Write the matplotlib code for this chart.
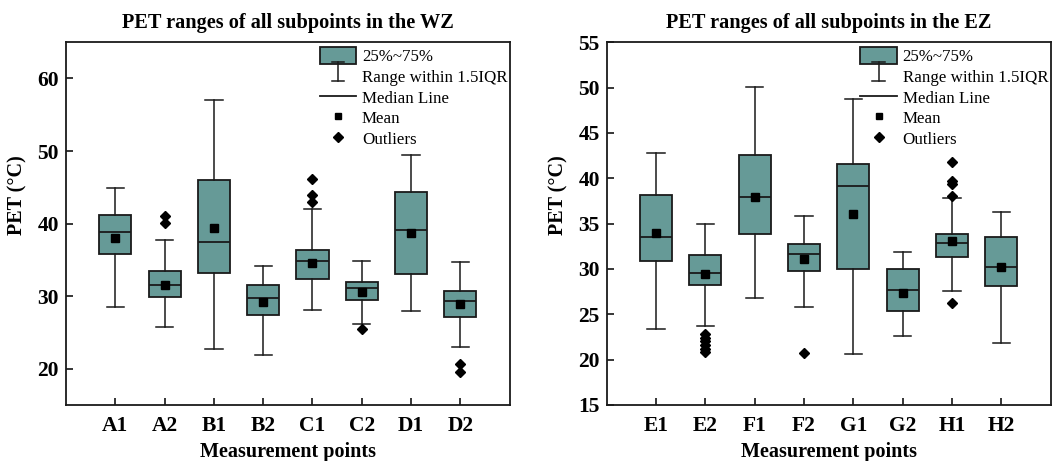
import numpy as np
import matplotlib.pyplot as plt
from matplotlib.patches import Patch
from matplotlib.lines import Line2D
from matplotlib.legend_handler import HandlerBase

plt.rcParams['font.family'] = ['Liberation Serif', 'DejaVu Serif']

BOX_COLOR = '#669a97'
EDGE = '#1a1a1a'

# West zone summary stats: whisker low, Q1, median, Q3, whisker high, mean
WZ_LABELS = ['A1', 'A2', 'B1', 'B2', 'C1', 'C2', 'D1', 'D2']
WZ_WLO = [28.5, 25.7, 22.7, 21.9, 28.1, 26.1, 28.0, 23.0]
WZ_Q1 = [35.8, 29.9, 33.2, 27.4, 32.3, 29.5, 33.1, 27.1]
WZ_MED = [38.8, 31.6, 37.4, 29.7, 34.8, 31.1, 39.1, 29.3]
WZ_Q3 = [41.2, 33.5, 46.0, 31.5, 36.4, 31.9, 44.4, 30.7]
WZ_WHI = [44.9, 37.8, 57.1, 34.2, 42.0, 34.9, 49.4, 34.7]
WZ_MEAN = [38.0, 31.6, 39.4, 29.2, 34.6, 30.6, 38.7, 28.9]
WZ_OUT = [[], [41.0, 40.1], [], [], [46.1, 43.9, 43.0], [25.5], [], [20.6, 19.5]]

# East zone
EZ_LABELS = ['E1', 'E2', 'F1', 'F2', 'G1', 'G2', 'H1', 'H2']
EZ_WLO = [23.4, 23.7, 26.8, 25.8, 20.6, 22.6, 27.6, 21.8]
EZ_Q1 = [30.85, 28.2, 33.9, 29.8, 30.0, 25.4, 31.3, 28.1]
EZ_MED = [33.5, 29.6, 37.9, 31.7, 39.1, 27.7, 32.9, 30.2]
EZ_Q3 = [38.1, 31.55, 42.6, 32.75, 41.6, 30.0, 33.9, 33.5]
EZ_WHI = [42.8, 35.0, 50.1, 35.8, 48.7, 31.9, 37.8, 36.3]
EZ_MEAN = [34.0, 29.4, 37.9, 31.1, 36.1, 27.4, 33.05, 30.2]
EZ_OUT = [[], [22.8, 22.4, 22.0, 21.6, 21.2, 20.8], [], [20.7], [], [],
          [41.8, 39.7, 39.4, 38.0, 26.25], []]


class WhiskerHandler(HandlerBase):
    # legend glyph drawn as a small I-beam
    def create_artists(self, legend, orig_handle, xd, yd, width, height, fontsize, trans):
        cx = xd + width / 2
        top = yd + height * 1.05
        bot = yd - height * 0.1
        cw = width * 0.17
        arts = [Line2D([cx, cx], [bot, top], color=EDGE, lw=1.1),
                Line2D([cx - cw, cx + cw], [top, top], color=EDGE, lw=1.1),
                Line2D([cx - cw, cx + cw], [bot, bot], color=EDGE, lw=1.1)]
        for a in arts:
            a.set_transform(trans)
        return arts


def draw_panel(ax, labels, wlo, q1, med, q3, whi, mean, outl, title, ylim, yticks):
    stats = []
    for i in range(len(labels)):
        stats.append({'label': labels[i], 'whislo': wlo[i], 'q1': q1[i], 'med': med[i],
                      'q3': q3[i], 'whishi': whi[i], 'mean': mean[i], 'fliers': outl[i]})
    pos = np.arange(1, len(labels) + 1)
    ax.bxp(stats, positions=pos, widths=0.65, patch_artist=True,
           showmeans=True, showfliers=True,
           boxprops=dict(facecolor=BOX_COLOR, edgecolor=EDGE, lw=1.3),
           medianprops=dict(color=EDGE, lw=1.3),
           whiskerprops=dict(color=EDGE, lw=1.1),
           capprops=dict(color=EDGE, lw=1.1),
           capwidths=0.35,
           meanprops=dict(marker='s', markerfacecolor='black', markeredgecolor='black', markersize=5.5),
           flierprops=dict(marker='D', markerfacecolor='black', markeredgecolor='black', markersize=5))
    ax.set_xlim(0, len(labels) + 1)
    ax.set_ylim(*ylim)
    ax.set_yticks(yticks)
    ax.set_xticks(pos)
    ax.set_xticklabels(labels)
    ax.tick_params(direction='in', length=5, width=1.1, labelsize=15.5)
    ax.tick_params(axis='x', pad=8)
    ax.tick_params(axis='y', pad=5)
    for t in ax.get_xticklabels() + ax.get_yticklabels():
        t.set_fontweight('bold')
    for s in ax.spines.values():
        s.set_linewidth(1.3)
        s.set_color(EDGE)
    ax.set_title(title, fontsize=14.6, fontweight='bold', pad=10)
    ax.set_xlabel('Measurement points', fontsize=14.5, fontweight='bold', labelpad=4)
    ax.set_ylabel('PET (°C)', fontsize=14.5, fontweight='bold')
    ax.yaxis.set_label_coords(-0.086, 0.578)

    whisker = Line2D([], [])
    handles = [Patch(facecolor=BOX_COLOR, edgecolor=EDGE, lw=1.3),
               whisker,
               Line2D([], [], color=EDGE, lw=1.3),
               Line2D([], [], ls='none', marker='s', color='black', markersize=5),
               Line2D([], [], ls='none', marker='D', color='black', markersize=5)]
    names = ['25%~75%', 'Range within 1.5IQR', 'Median Line', 'Mean', 'Outliers']
    ax.legend(handles, names, loc='upper right', bbox_to_anchor=(1.018, 1.014),
              frameon=False, fontsize=12.2, handlelength=2.15, handleheight=1.15,
              labelspacing=0.15, handletextpad=0.35, borderaxespad=0.2,
              handler_map={whisker: WhiskerHandler()})


fig = plt.figure(figsize=(10.59, 4.61), dpi=100)
ax1 = fig.add_axes([0.0623, 0.1215, 0.419, 0.787])
ax2 = fig.add_axes([0.573, 0.1215, 0.419, 0.787])

draw_panel(ax1, WZ_LABELS, WZ_WLO, WZ_Q1, WZ_MED, WZ_Q3, WZ_WHI, WZ_MEAN, WZ_OUT,
           'PET ranges of all subpoints in the WZ', (15, 65), [20, 30, 40, 50, 60])
draw_panel(ax2, EZ_LABELS, EZ_WLO, EZ_Q1, EZ_MED, EZ_Q3, EZ_WHI, EZ_MEAN, EZ_OUT,
           'PET ranges of all subpoints in the EZ', (15, 55), [15, 20, 25, 30, 35, 40, 45, 50, 55])

fig.savefig('out.png', dpi=100)
